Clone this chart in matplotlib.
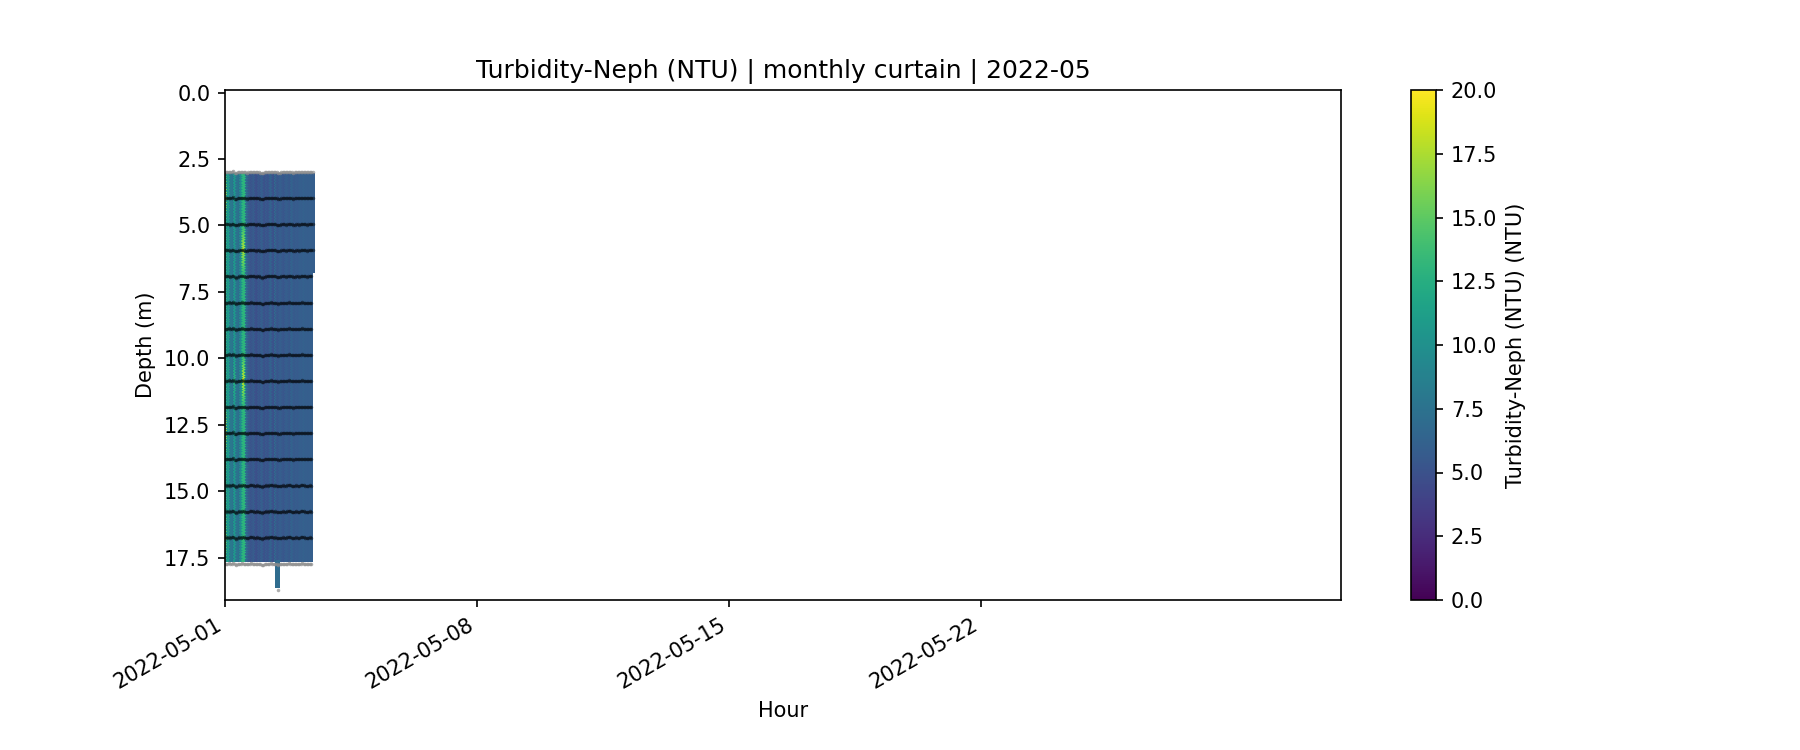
import numpy as np
import pandas as pd
import matplotlib
matplotlib.use("Agg")
import matplotlib.pyplot as plt
import matplotlib.dates as mdates

# ---------------- data ----------------
start = pd.Timestamp("2022-05-01 00:00")
month_end = pd.Timestamp("2022-06-01 00:00")
tick_dates = ["2022-05-01", "2022-05-08", "2022-05-15", "2022-05-22"]
n_hours = 59

# sensor depths (m); first and last are shown as grey (no turbidity)
sensor_depths = [2.98, 3.96, 4.95, 5.93, 6.91, 7.90, 8.88, 9.86, 10.84,
                 11.83, 12.81, 13.79, 14.78, 15.76, 16.74, 17.73]
deep_point_depth = 18.71

# hourly column turbidity (NTU) read across the curtain
col_base = [13.0, 9.5, 11.0, 8.0, 8.0, 7.5, 10.5, 8.0, 7.5, 7.0,
            9.5, 12.0, 13.0, 12.5,
            7.0, 6.0, 5.5, 5.0, 5.5, 6.0, 5.0, 4.8, 5.5, 5.2,
            6.0, 5.5, 5.0, 5.8, 5.2, 5.5, 6.2, 5.4, 5.0, 7.0,
            5.6, 5.2, 5.8, 6.0, 5.5, 5.3, 5.8, 6.0, 5.6, 5.4,
            6.2, 5.8, 5.6, 6.0, 5.7, 5.9, 6.0, 5.8, 6.1, 5.9,
            6.0, 5.8, 6.0, 6.0, 5.9]

# local peaks: (hour, sensor index, NTU)
peak_hours = [0, 0, 0, 6, 11, 12, 12]
peak_sensor = [1, 10, 14, 8, 3, 3, 8]
peak_values = [16.5, 17.0, 15.0, 12.5, 15.0, 17.5, 18.0]

# deeper single cast
deep_hours = [34, 35]
deep_value = 7.0

# small depth wobble of sensor markers (m)
wobble = [0.00, 0.01, -0.01, 0.02, 0.00, -0.02, 0.03, 0.05, 0.02, 0.00,
          0.01, -0.01, 0.00, 0.02, 0.03, 0.01, 0.00, -0.01, 0.00, 0.01,
          0.02, 0.00, 0.01, 0.03, 0.05, 0.04, 0.02, 0.00, 0.01, 0.00,
          -0.01, 0.00, 0.01, 0.00, 0.02, 0.04, 0.03, 0.01, 0.00, 0.01,
          0.02, 0.00, -0.01, 0.00, 0.01, 0.03, 0.02, 0.00, 0.01, 0.02,
          0.00, -0.01, 0.00, 0.01, 0.02, 0.01, 0.00, 0.01, 0.00]

mesh_top, mesh_bottom, deep_bottom = 3.06, 17.64, 18.62
upper_extra_limit = 6.8   # last hour only present above this depth

# ---------------- build grid ----------------
sd = np.array(sensor_depths)
vals = np.tile(np.array(col_base, float)[:, None], (1, len(sd)))
for h, s, v in zip(peak_hours, peak_sensor, peak_values):
    vals[h, s] = v

t_edges = pd.date_range(start, periods=n_hours + 1, freq="h")
t_num = mdates.date2num(t_edges.to_pydatetime())
z_edges = np.linspace(mesh_top, mesh_bottom, 147)
z_cent = 0.5 * (z_edges[:-1] + z_edges[1:])

grid = np.array([np.interp(z_cent, sd, vals[h]) for h in range(n_hours)]).T
grid[:, n_hours - 1][z_cent > upper_extra_limit] = np.nan
grid = np.ma.masked_invalid(grid)

# ---------------- plot ----------------
fig, ax = plt.subplots(figsize=(12, 5), dpi=150)
pm = ax.pcolormesh(t_num, z_edges, grid, cmap="viridis", vmin=0, vmax=20,
                   shading="flat", edgecolors="face", linewidth=0.2,
                   antialiased=False)
deep_t = mdates.date2num([(start + pd.Timedelta(hours=h)).to_pydatetime()
                          for h in [deep_hours[0], deep_hours[-1] + 1]])
ax.pcolormesh(deep_t, [mesh_bottom, deep_bottom],
              np.full((1, 1), deep_value), cmap="viridis", vmin=0, vmax=20,
              edgecolors="face", linewidth=0.2, antialiased=False)

hours_t = mdates.date2num([(start + pd.Timedelta(hours=h + 0.5)).to_pydatetime()
                           for h in range(n_hours)])
wb = np.array(wobble)
for i, d in enumerate(sensor_depths):
    last = n_hours if d < upper_extra_limit else n_hours - 1
    grey = i in (0, len(sensor_depths) - 1)
    ax.plot(hours_t[:last], d + wb[:last], "o", ms=1.7, mew=0,
            color="0.55" if grey else "black", alpha=0.7 if grey else 0.45)
ax.plot([hours_t[35]], [deep_point_depth], "o", ms=1.7, mew=0,
        color="0.55", alpha=0.7)

ax.set_xlim(mdates.date2num(start.to_pydatetime()),
            mdates.date2num(month_end.to_pydatetime()))
ax.set_xticks(mdates.date2num(pd.to_datetime(tick_dates).to_pydatetime()))
ax.xaxis.set_major_formatter(mdates.DateFormatter("%Y-%m-%d"))
ax.set_ylim(19.1, -0.1)
ax.set_xlabel("Hour")
ax.set_ylabel("Depth (m)")
ax.set_title("Turbidity-Neph (NTU) | monthly curtain | 2022-05")
cb = fig.colorbar(pm, ax=ax)
cb.set_label("Turbidity-Neph (NTU) (NTU)")
fig.autofmt_xdate()
fig.savefig("out.png", dpi=150)
